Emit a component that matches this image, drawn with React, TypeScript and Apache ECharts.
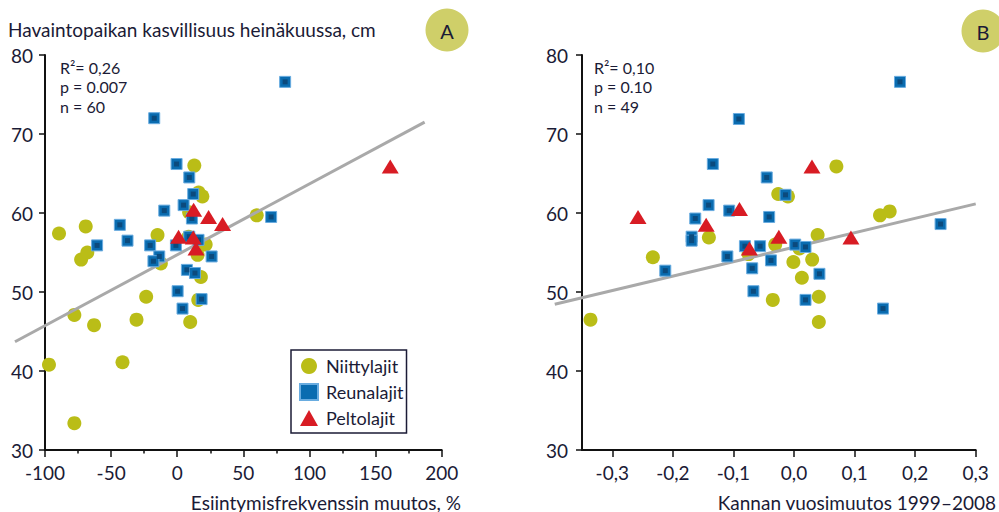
import React, { useEffect, useRef } from "react";
import * as echarts from "echarts";

// Species groups (legend order)
const groupNames = ["Niittylajit", "Reunalajit", "Peltolajit"];

// Panel A: x = change in occurrence frequency (%), y = vegetation height (cm)
const meadowA: [number, number][] = [
  [-97, 40.8], [-77.8, 33.4], [-77.8, 47.1], [-62.9, 45.8], [-41.4, 41.1],
  [-30.8, 46.5], [-23.5, 49.4], [9.8, 46.2], [15.9, 49.0], [17.9, 51.9],
  [15.4, 54.7], [21.5, 56.0], [-12.4, 53.6], [-14.9, 57.2], [-72.7, 54.1],
  [-68, 55.0], [-89.4, 57.4], [-69.2, 58.3], [12.9, 66.0], [16.2, 62.6],
  [19, 62.1], [8.6, 57.0], [60.1, 59.7], [9, 60.1],
];
const edgeA: [number, number][] = [
  [-17.4, 72.0], [-0.5, 66.2], [9.1, 64.5], [12.1, 62.4], [4.8, 61.0],
  [-9.8, 60.3], [-43.4, 58.5], [-37.6, 56.5], [-60.6, 55.9], [-20.5, 55.9],
  [-13.6, 54.5], [-18, 53.9], [-1, 55.9], [11.1, 59.3], [9.1, 57.0],
  [16.1, 56.6], [26, 54.5], [7.3, 52.8], [13.4, 52.4], [0.3, 50.1],
  [18.4, 49.1], [71, 59.5], [81.6, 76.6], [4, 47.9],
];
const fieldA: [number, number][] = [
  [12.4, 60.4], [23.7, 59.5], [34.3, 58.6], [1, 57.0], [12.1, 56.9],
  [14.2, 55.5], [161.1, 65.9],
];
const trendA: [number, number][] = [[-122.7, 43.7], [187.1, 71.5]];
const statsA = ["R²= 0,26", "p = 0.007", "n = 60"];

// Panel B: x = annual population change 1999–2008, y = vegetation height (cm)
const meadowB: [number, number][] = [
  [-0.336, 46.5], [-0.233, 54.4], [-0.1405, 56.9], [-0.075, 54.8], [-0.035, 49.0],
  [-0.031, 56.0], [-0.026, 62.4], [-0.010, 62.1], [0.070, 65.9], [0.142, 59.7],
  [0.158, 60.2], [0.039, 57.2], [0.009, 55.5], [-0.001, 53.8], [0.030, 54.1],
  [0.013, 51.8], [0.041, 49.4], [0.041, 46.2],
];
const edgeB: [number, number][] = [
  [-0.2125, 52.7], [-0.091, 71.9], [-0.134, 66.2], [-0.141, 61.0], [-0.163, 59.3],
  [-0.169, 57.0], [-0.169, 56.5], [-0.107, 60.3], [-0.110, 54.5], [-0.081, 55.8],
  [-0.069, 53.0], [-0.067, 50.1], [-0.056, 55.8], [-0.045, 64.5], [-0.041, 59.5],
  [-0.038, 54.0], [-0.014, 62.3], [0.175, 76.6], [0.242, 58.6], [0.002, 56.0],
  [0.019, 55.7], [0.042, 52.3], [0.019, 49.0], [0.147, 47.9],
];
const fieldB: [number, number][] = [
  [-0.2575, 59.5], [-0.145, 58.5], [-0.090, 60.5], [-0.0736, 55.5], [0.0297, 65.9],
  [-0.025, 57.0], [0.094, 56.9],
];
const trendB: [number, number][] = [[-0.395, 48.45], [0.300, 61.15]];
const statsB = ["R²= 0,10", "p = 0.10", "n = 49"];

const xRangeA: [number, number] = [-100, 200];
const xRangeB: [number, number] = [-0.35, 0.3];
const yRange: [number, number] = [30, 80];
const xTicksB = [-0.3, -0.2, -0.1, 0, 0.1, 0.2, 0.3];

const yTitle = "Havaintopaikan kasvillisuus heinäkuussa, cm";
const xTitleA = "Esiintymisfrekvenssin muutos, %";
const xTitleB = "Kannan vuosimuutos 1999–2008";
const panelTags = ["A", "B"];

const FONT = "Lato";
const INK = "#1b1b36";
const AXIS = "#111111";
const MEADOW = "#babd17";
const EDGE = "#0a6cb0";
const EDGE_RIM = "#69ace0";
const EDGE_CORE = "#0b4a7d";
const FIELD = "#d81c24";
const TREND = "#a9a9a9";
const TAG = "#cfcf69";

// Plot boxes (pixels)
const PLOT_TOP = 55;
const PLOT_H = 395;
const boxA = { left: 45, width: 396.7 };
const boxB = { left: 582, width: 393.7 };

// A hidden grid sharing the panel's scale but reaching further left, so the
// regression line can run past the y axis as it does in print.
function trendGrid(box: { left: number; width: number }, range: [number, number], start: number) {
  const pxPerUnit = box.width / (range[1] - range[0]);
  const left = box.left - (range[0] - start) * pxPerUnit;
  return { left, top: PLOT_TOP, width: box.left + box.width - left, height: PLOT_H };
}

function yAxisFor(gridIndex: number, margin: number) {
  return {
    type: "value",
    gridIndex,
    min: yRange[0],
    max: yRange[1],
    interval: 10,
    splitLine: { show: false },
    axisLine: { show: true, onZero: false, lineStyle: { color: AXIS, width: 2 } },
    axisTick: { show: true, inside: false, length: 6, lineStyle: { color: AXIS, width: 1.5 } },
    axisLabel: { color: INK, fontFamily: FONT, fontSize: 19, margin },
  };
}

function hiddenAxis(gridIndex: number, min: number, max: number) {
  return { type: "value", gridIndex, min, max, show: false, splitLine: { show: false } };
}

function panelSeries(
  axisIndex: number,
  trendAxisIndex: number,
  meadow: [number, number][],
  edge: [number, number][],
  field: [number, number][],
  trend: [number, number][]
): any[] {
  return [
    {
      name: groupNames[0],
      type: "scatter",
      xAxisIndex: axisIndex,
      yAxisIndex: axisIndex,
      symbol: "circle",
      symbolSize: 14,
      itemStyle: { color: MEADOW, opacity: 1 },
      data: meadow,
      z: 2,
    },
    {
      type: "line",
      xAxisIndex: trendAxisIndex,
      yAxisIndex: trendAxisIndex,
      data: trend,
      symbol: "none",
      clip: false,
      lineStyle: { color: TREND, width: 3 },
      silent: true,
      z: 3,
    },
    {
      name: groupNames[1],
      type: "scatter",
      xAxisIndex: axisIndex,
      yAxisIndex: axisIndex,
      symbol: "rect",
      symbolSize: 11,
      itemStyle: { color: EDGE, borderColor: EDGE_RIM, borderWidth: 1, opacity: 1 },
      data: edge,
      z: 4,
    },
    {
      type: "scatter",
      xAxisIndex: axisIndex,
      yAxisIndex: axisIndex,
      symbol: "rect",
      symbolSize: 5,
      itemStyle: { color: EDGE_CORE, opacity: 1 },
      data: edge,
      silent: true,
      z: 5,
    },
    {
      name: groupNames[2],
      type: "scatter",
      xAxisIndex: axisIndex,
      yAxisIndex: axisIndex,
      symbol: "triangle",
      symbolSize: [17, 14],
      itemStyle: { color: FIELD, opacity: 1 },
      data: field,
      z: 6,
    },
  ];
}

// Regression statistics block, one text with three lines
function statsText(x: number, lines: string[]): any {
  return {
    type: "text",
    x,
    y: 58,
    style: {
      text: lines.join("\n"),
      fill: INK,
      fontFamily: FONT,
      fontSize: 16,
      lineHeight: 19.2,
      align: "left",
      verticalAlign: "top",
    },
  };
}

function tag(cx: number, cy: number, label: string): any[] {
  return [
    { type: "circle", shape: { cx, cy, r: 21.5 }, style: { fill: TAG } },
    {
      type: "text",
      x: cx,
      y: cy + 1,
      style: {
        text: label,
        fill: INK,
        fontFamily: FONT,
        fontSize: 20,
        align: "center",
        verticalAlign: "middle",
      },
    },
  ];
}

export default function App() {
  const ref = useRef<HTMLDivElement>(null);

  useEffect(() => {
    if (!ref.current) return;
    const chart = echarts.init(ref.current, undefined, { renderer: "svg" });

    const option: any = {
      animation: false,
      backgroundColor: "#ffffff",
      grid: [
        { left: boxA.left, top: PLOT_TOP, width: boxA.width, height: PLOT_H },
        { left: boxB.left, top: PLOT_TOP, width: boxB.width, height: PLOT_H },
        trendGrid(boxA, xRangeA, trendA[0][0]),
        trendGrid(boxB, xRangeB, trendB[0][0]),
      ],
      xAxis: [
        {
          type: "value",
          gridIndex: 0,
          min: xRangeA[0],
          max: xRangeA[1],
          interval: 50,
          splitLine: { show: false },
          axisLine: { show: true, onZero: false, lineStyle: { color: AXIS, width: 2 } },
          axisTick: { show: true, length: 7, lineStyle: { color: AXIS, width: 1.5 } },
          minorTick: { show: true, splitNumber: 2, length: 3.5, lineStyle: { color: AXIS, width: 1.5 } },
          axisLabel: { color: INK, fontFamily: FONT, fontSize: 19, margin: 13 },
        },
        {
          type: "value",
          gridIndex: 1,
          min: xRangeB[0],
          max: xRangeB[1],
          splitLine: { show: false },
          axisLine: { show: true, onZero: false, lineStyle: { color: AXIS, width: 2 } },
          axisTick: {
            show: true,
            length: 7,
            customValues: xTicksB,
            lineStyle: { color: AXIS, width: 1.5 },
          },
          axisLabel: {
            color: INK,
            fontFamily: FONT,
            fontSize: 19,
            margin: 13,
            customValues: xTicksB,
            formatter: (v: number) => v.toFixed(1).replace(".", ",").replace("-0,0", "0,0"),
          },
        },
        hiddenAxis(2, trendA[0][0], xRangeA[1]),
        hiddenAxis(3, trendB[0][0], xRangeB[1]),
      ],
      yAxis: [
        yAxisFor(0, 12),
        yAxisFor(1, 14),
        hiddenAxis(2, yRange[0], yRange[1]),
        hiddenAxis(3, yRange[0], yRange[1]),
      ],
      legend: {
        data: groupNames,
        left: 291,
        top: 350,
        orient: "vertical",
        padding: [7, 3, 6, 8],
        itemGap: 8,
        itemWidth: 18,
        itemHeight: 16,
        borderColor: INK,
        borderWidth: 1.5,
        backgroundColor: "#ffffff",
        selectedMode: false,
        textStyle: { color: INK, fontFamily: FONT, fontSize: 18, padding: [0, 0, 0, 3] },
      },
      series: [
        ...panelSeries(0, 2, meadowA, edgeA, fieldA, trendA),
        ...panelSeries(1, 3, meadowB, edgeB, fieldB, trendB),
      ],
      graphic: [
        {
          type: "text",
          x: 8,
          y: 29,
          style: {
            text: yTitle,
            fill: INK,
            fontFamily: FONT,
            fontSize: 19,
            align: "left",
            verticalAlign: "middle",
          },
        },
        statsText(60, statsA),
        statsText(594, statsB),
        ...tag(447, 30, panelTags[0]),
        ...tag(983, 31, panelTags[1]),
        {
          type: "text",
          x: 461,
          y: 502,
          style: {
            text: xTitleA,
            fill: INK,
            fontFamily: FONT,
            fontSize: 19,
            align: "right",
            verticalAlign: "middle",
          },
        },
        {
          type: "text",
          x: 996,
          y: 502,
          style: {
            text: xTitleB,
            fill: INK,
            fontFamily: FONT,
            fontSize: 19,
            align: "right",
            verticalAlign: "middle",
          },
        },
      ],
    };

    chart.setOption(option);
    return () => chart.dispose();
  }, []);

  return (
    <div
      ref={ref}
      style={{ position: "fixed", left: 0, top: 0, width: 999, height: 512, background: "#fff" }}
    />
  );
}
